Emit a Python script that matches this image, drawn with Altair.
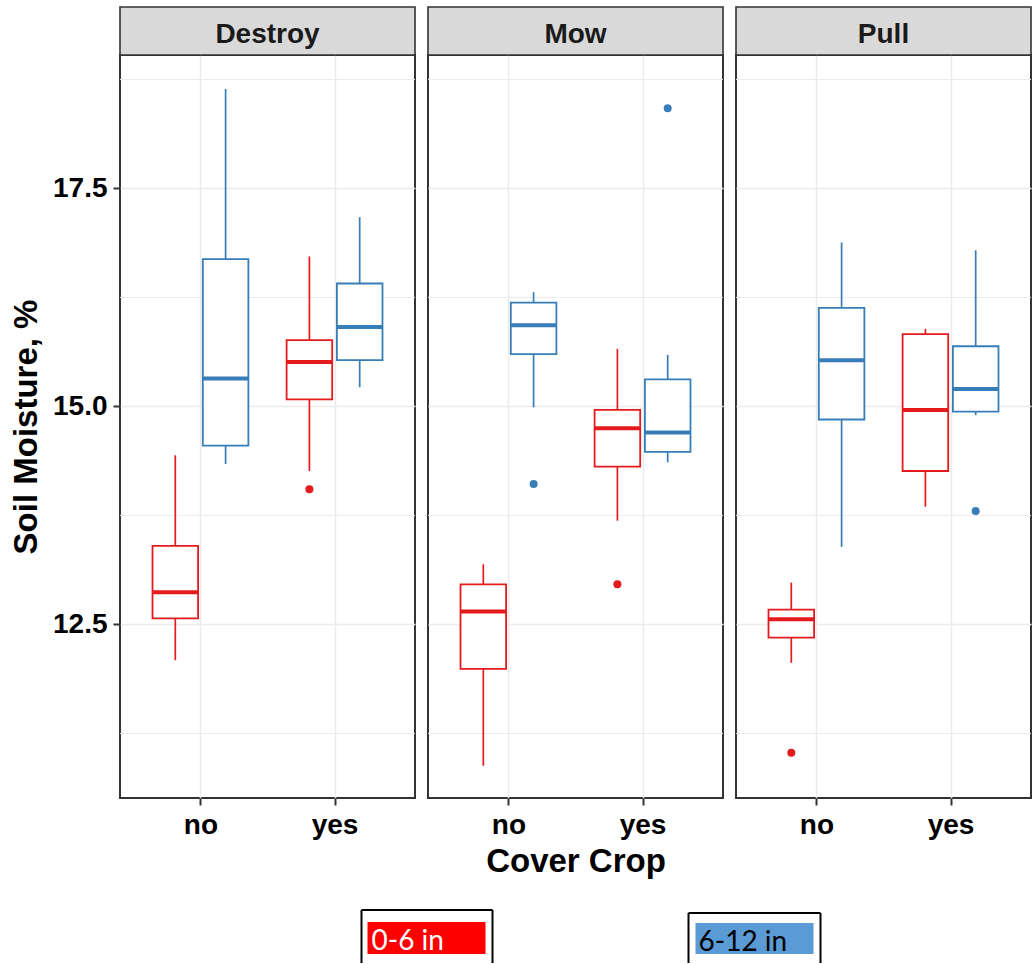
import altair as alt
import pandas as pd

# ---- data -------------------------------------------------------------
treatments = ["Destroy", "Mow", "Pull"]
cover_levels = ["no", "yes"]
depths = ["0-6 in", "6-12 in"]

# one entry per (treatment, cover crop, depth), nested in that order
box_treatment = ["Destroy"] * 4 + ["Mow"] * 4 + ["Pull"] * 4
box_cover = ["no", "no", "yes", "yes"] * 3
box_depth = ["0-6 in", "6-12 in"] * 6
whisker_low = [12.09, 14.34, 14.26, 15.22, 10.88, 14.99, 13.69, 14.36, 12.06, 13.39, 13.85, 14.90]
q1 = [12.57, 14.55, 15.08, 15.53, 11.99, 15.60, 14.31, 14.48, 12.35, 14.85, 14.26, 14.94]
median = [12.87, 15.32, 15.51, 15.91, 12.65, 15.93, 14.75, 14.70, 12.56, 15.53, 14.96, 15.20]
q3 = [13.40, 16.69, 15.76, 16.41, 12.96, 16.19, 14.96, 15.31, 12.67, 16.13, 15.83, 15.69]
whisker_high = [14.44, 18.64, 16.72, 17.17, 13.19, 16.31, 15.66, 15.59, 12.98, 16.88, 15.89, 16.79]

outlier_treatment = ["Destroy", "Mow", "Mow", "Mow", "Pull", "Pull"]
outlier_cover = ["yes", "no", "yes", "yes", "no", "yes"]
outlier_depth = ["0-6 in", "6-12 in", "0-6 in", "6-12 in", "0-6 in", "6-12 in"]
outlier_value = [14.05, 14.11, 12.96, 18.42, 11.03, 13.80]

major_breaks = [12.5, 15.0, 17.5]
minor_breaks = [11.25, 13.75, 16.25, 18.75]

box_colors = ["#E41A1C", "#377EB8"]
key_fill = ["#FF0000", "#5B9BD5"]
key_text = ["white", "black"]

boxes = pd.DataFrame({
    "treatment": box_treatment, "cover": box_cover, "depth": box_depth,
    "lo": whisker_low, "q1": q1, "med": median, "q3": q3, "hi": whisker_high,
})
outliers = pd.DataFrame({
    "treatment": outlier_treatment, "cover": outlier_cover,
    "depth": outlier_depth, "value": outlier_value,
})
minor = pd.DataFrame({"value": minor_breaks})

# ---- layout -----------------------------------------------------------
W, H, SP = 295, 743, 13
PLOT_LEFT, PLOT_TOP = 120.5, 54
STRIP_H = 48
DODGE, HALF_BOX = 0.1875, 0.17
FONT = "Liberation Sans"

xscale = alt.Scale(domain=[0.4, 2.6], nice=False, zero=False)
yscale = alt.Scale(domain=[10.51, 19.03], nice=False, zero=False)
color_scale = alt.Scale(domain=depths, range=box_colors)

pos_expr = (
    f"(datum.cover == '{cover_levels[0]}' ? 1 : 2) + "
    f"(datum.depth == '{depths[0]}' ? -{DODGE} : {DODGE})"
)
label_expr = f"datum.value == 1 ? '{cover_levels[0]}' : '{cover_levels[1]}'"


def panel(name, idx):
    first = idx == 0
    middle = idx == 1
    xaxis = alt.Axis(values=[1, 2], labelExpr=label_expr, grid=True,
                     title="Cover Crop" if middle else None)
    yaxis = alt.Axis(values=major_breaks, format=".1f", grid=True,
                     labels=first, ticks=first,
                     title="Soil Moisture, %" if first else None)

    def X(f):
        return alt.X(f, scale=xscale, axis=xaxis)

    def Y(f):
        return alt.Y(f, scale=yscale, axis=yaxis)

    stroke = alt.Stroke("depth:N", scale=color_scale, legend=None)

    bdata = alt.Chart(boxes[boxes.treatment == name]).transform_calculate(
        xc=pos_expr
    ).transform_calculate(
        xl=f"datum.xc - {HALF_BOX}", xr=f"datum.xc + {HALF_BOX}"
    )

    minor_grid = alt.Chart(minor).mark_rule(color="#EBEBEB", strokeWidth=1).encode(
        y=Y("value:Q")
    )
    lower = bdata.mark_rule(strokeWidth=1.7).encode(
        x=X("xc:Q"), y=Y("lo:Q"), y2="q1:Q", stroke=stroke)
    upper = bdata.mark_rule(strokeWidth=1.7).encode(
        x=X("xc:Q"), y=Y("q3:Q"), y2="hi:Q", stroke=stroke)
    box = bdata.mark_rect(fill="white", strokeWidth=1.8).encode(
        x=X("xl:Q"), x2="xr:Q", y=Y("q1:Q"), y2="q3:Q", stroke=stroke)
    mid = bdata.mark_rule(strokeWidth=4).encode(
        x=X("xl:Q"), x2="xr:Q", y=Y("med:Q"), stroke=stroke)
    pts = alt.Chart(outliers[outliers.treatment == name]).transform_calculate(
        xc=pos_expr
    ).mark_circle(size=64, opacity=1).encode(
        x=X("xc:Q"), y=Y("value:Q"),
        color=alt.Color("depth:N", scale=color_scale, legend=None))

    strip_df = pd.DataFrame({"panel": [name]})
    strip = alt.Chart(strip_df).mark_rect(
        fill="#D9D9D9", stroke="#333333", strokeWidth=1.6
    ).encode(x=alt.value(0), x2=alt.value(W), y=alt.value(-STRIP_H), y2=alt.value(0))
    strip_txt = alt.Chart(strip_df).mark_text(
        font=FONT, fontSize=28, fontWeight="bold", color="#1A1A1A",
        align="center", baseline="alphabetic"
    ).encode(x=alt.value(W / 2), y=alt.value(-12), text="panel:N")

    layers = [minor_grid, lower, upper, box, mid, pts, strip, strip_txt]

    if middle:
        # colour key drawn under the x axis title
        x0 = PLOT_LEFT + W + SP
        key_boxes = [
            dict(outer=(362, 493, 909), inner=(368, 486, 921, 953), tx=372, ty=949),
            dict(outer=(689, 821, 912), inner=(696, 814, 922, 953), tx=699, ty=950),
        ]
        bottom = 962 - PLOT_TOP
        for i, kb in enumerate(key_boxes):
            kdf = pd.DataFrame({"label": [depths[i]]})
            kc = alt.Chart(kdf)
            ox1, ox2, oy = kb["outer"]
            ix1, ix2, iy1, iy2 = kb["inner"]
            layers.append(kc.mark_rect(color=key_fill[i]).encode(
                x=alt.value(ix1 - x0), x2=alt.value(ix2 - x0),
                y=alt.value(iy1 - PLOT_TOP), y2=alt.value(iy2 - PLOT_TOP)))
            for xa, xb, ya in [(ox1, ox2, oy), (ox1, ox1, oy), (ox2, ox2, oy)]:
                enc = dict(x=alt.value(xa - x0), y=alt.value(ya - PLOT_TOP))
                if xb != xa:
                    enc["x2"] = alt.value(xb - x0)
                else:
                    enc["y2"] = alt.value(bottom)
                layers.append(kc.mark_rule(color="black", strokeWidth=2).encode(**enc))
            layers.append(kc.mark_text(
                font="Lato", fontSize=28, color=key_text[i],
                align="left", baseline="alphabetic"
            ).encode(x=alt.value(kb["tx"] - x0), y=alt.value(kb["ty"] - PLOT_TOP),
                     text="label:N"))

    return alt.layer(*layers).properties(width=W, height=H)


chart = alt.hconcat(
    *[panel(t, i) for i, t in enumerate(treatments)], spacing=SP, bounds="flush"
).properties(
    padding={"left": 9, "top": 5, "right": 0, "bottom": 0},
    background="white",
).configure_view(
    stroke="#333333", strokeWidth=2
).configure_axis(
    labelFont=FONT, labelFontSize=28, labelFontWeight="bold", labelColor="black",
    titleFont=FONT, titleFontSize=33, titleFontWeight="bold", titleColor="black",
    tickColor="#333333", tickWidth=2, tickSize=7,
    gridColor="#EBEBEB", gridWidth=1.5, domain=False,
).configure_axisY(
    labelPadding=6, titlePadding=9
).configure_axisX(
    labelPadding=6, titlePadding=6
)

chart.save("out.html", embed_options={"renderer": "svg", "actions": False})
